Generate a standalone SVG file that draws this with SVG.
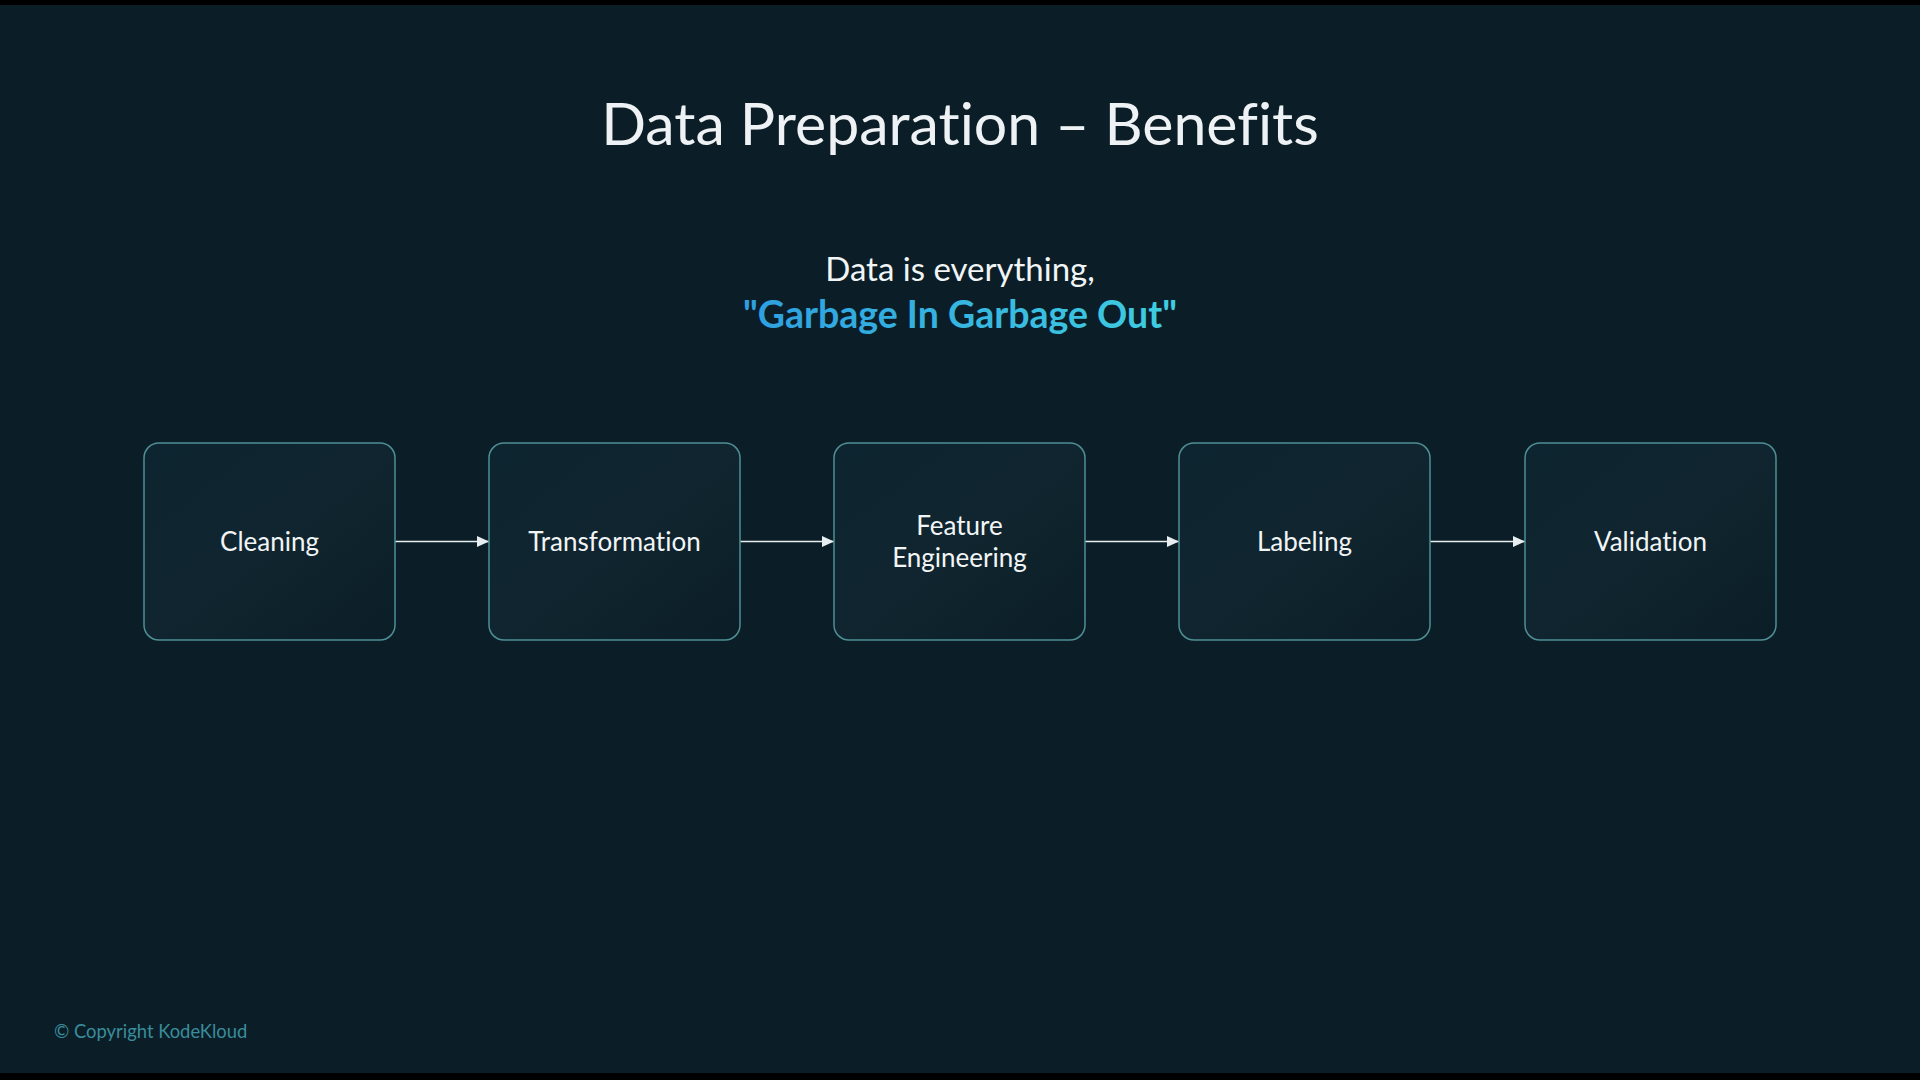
<svg xmlns="http://www.w3.org/2000/svg" width="1920" height="1080" viewBox="0 0 1920 1080">
  <defs>
    <linearGradient id="boxFill" x1="0" y1="0" x2="1" y2="1">
      <stop offset="0" stop-color="#0d2530"/>
      <stop offset="0.5" stop-color="#10252f"/>
      <stop offset="1" stop-color="#0b1e27"/>
    </linearGradient>
    <linearGradient id="quoteFill" x1="0" y1="0" x2="1" y2="0">
      <stop offset="0" stop-color="#2e9fe0"/>
      <stop offset="1" stop-color="#3fcde0"/>
    </linearGradient>
    <marker id="arrow" markerWidth="12" markerHeight="12" refX="12" refY="6" orient="auto" markerUnits="userSpaceOnUse">
      <path d="M0,0.5 L12,6 L0,11.5 Z" fill="#e8eef0"/>
    </marker>
    <style>
      text { font-variant-ligatures: none; }
      .box { fill: url(#boxFill); stroke: #4e8f95; stroke-width: 1.5; }
      .label { font-family: Lato, "Open Sans", sans-serif; font-size: 26px; fill: #f2f5f6; text-anchor: middle; }
      .conn { stroke: #e8eef0; stroke-width: 1.5; fill: none; marker-end: url(#arrow); }
    </style>
  </defs>
  <rect x="0" y="0" width="1920" height="1080" fill="#0b1e27"/>
  <rect x="0" y="0" width="1920" height="5" fill="#000"/>
  <rect x="0" y="1073" width="1920" height="7" fill="#000"/>

  <text x="960" y="145" font-family="Lato, 'Open Sans', sans-serif" font-size="59" fill="#eef2f4" text-anchor="middle">Data Preparation – Benefits</text>
  <text x="960" y="281" font-family="Lato, 'Open Sans', sans-serif" font-size="33" fill="#f2f5f6" text-anchor="middle">Data is everything,</text>
  <text x="960" y="328" font-family="Lato, 'Open Sans', sans-serif" font-size="37.5" font-weight="bold" fill="url(#quoteFill)" text-anchor="middle">"Garbage In Garbage Out"</text>

  <g id="connectors">
    <line class="conn" x1="395" y1="541.5" x2="489" y2="541.5"/>
    <line class="conn" x1="740" y1="541.5" x2="834" y2="541.5"/>
    <line class="conn" x1="1085" y1="541.5" x2="1179" y2="541.5"/>
    <line class="conn" x1="1430" y1="541.5" x2="1525" y2="541.5"/>
  </g>

  <g id="node-cleaning">
    <rect class="box" x="144" y="443" width="251" height="197" rx="15"/>
    <text class="label" x="269.5" y="551">Cleaning</text>
  </g>
  <g id="node-transformation">
    <rect class="box" x="489" y="443" width="251" height="197" rx="15"/>
    <text class="label" x="614.5" y="551">Transformation</text>
  </g>
  <g id="node-feature-engineering">
    <rect class="box" x="834" y="443" width="251" height="197" rx="15"/>
    <text class="label" x="959.5" y="535">Feature</text>
    <text class="label" x="959.5" y="567">Engineering</text>
  </g>
  <g id="node-labeling">
    <rect class="box" x="1179" y="443" width="251" height="197" rx="15"/>
    <text class="label" x="1304.5" y="551">Labeling</text>
  </g>
  <g id="node-validation">
    <rect class="box" x="1525" y="443" width="251" height="197" rx="15"/>
    <text class="label" x="1650.5" y="551">Validation</text>
  </g>

  <text x="54" y="1038" font-family="Lato, 'Open Sans', sans-serif" font-size="18.4" fill="#3a8d9c">© Copyright KodeKloud</text>
</svg>
